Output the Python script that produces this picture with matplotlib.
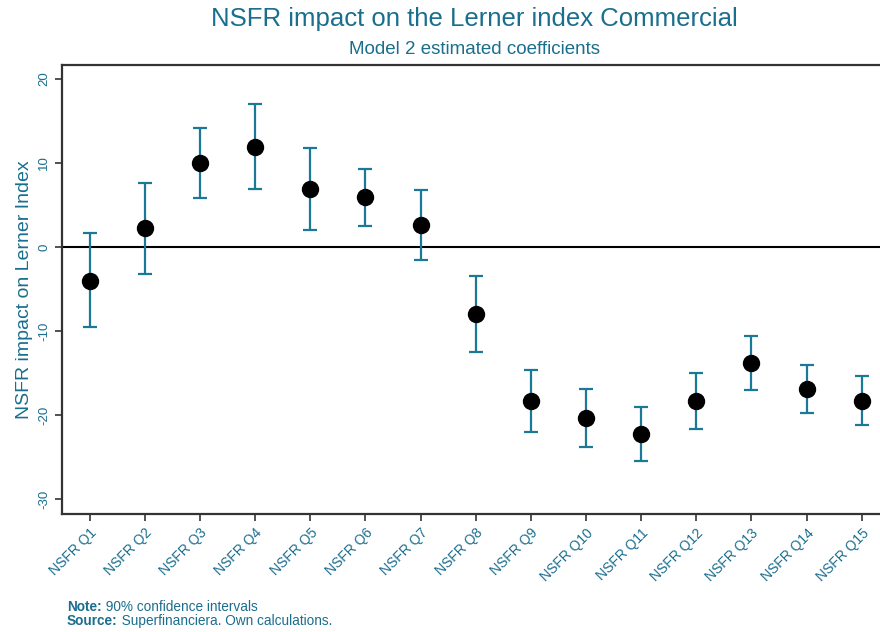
import matplotlib.pyplot as plt

plt.rcParams["font.family"] = ["Liberation Sans", "DejaVu Sans"]

labels = ["NSFR Q%d" % i for i in range(1, 16)]
coef = [-4.05, 2.26, 10.0, 11.9, 6.9, 5.95, 2.6, -8.0, -18.3, -20.4, -22.3, -18.4, -13.8, -16.9, -18.3]
upper = [1.67, 7.6, 14.2, 17.0, 11.8, 9.3, 6.8, -3.45, -14.7, -16.9, -19.1, -15.0, -10.6, -14.0, -15.4]
lower = [-9.5, -3.2, 5.8, 6.9, 2.0, 2.5, -1.5, -12.5, -22.0, -23.8, -25.5, -21.7, -17.0, -19.8, -21.2]
yticks = [20, 10, 0, -10, -20, -30]
notes = [("Note:", " 90% confidence intervals"),
         ("Source:", " Superfinanciera. Own calculations.")]

teal = "#1a6e8e"
bar_col = "#1b7896"
frame = "#333333"

fig = plt.figure(figsize=(8.8, 6.32), dpi=100)
ax = fig.add_axes([62 / 880, 1 - 514 / 632, 1 - 62 / 880, (514 - 65) / 632])

x = list(range(1, 16))
ax.axhline(0, color="black", lw=1.5, zorder=1)
yerr = [[c - l for c, l in zip(coef, lower)], [u - c for c, u in zip(coef, upper)]]
ax.errorbar(x, coef, yerr=yerr, fmt="none", ecolor=bar_col, elinewidth=1.6,
            capsize=5, capthick=1.6, zorder=2)
ax.plot(x, coef, "o", color="black", markersize=11.5, zorder=3)

ax.set_xlim(0.5, 15.33)
ax.set_ylim(-31.8, 21.67)
ax.set_xticks(x)
ax.set_xticklabels(labels, rotation=45, ha="right", rotation_mode="anchor",
                   color=teal, fontsize=10)
ax.set_yticks(yticks)
ax.set_yticklabels([str(v) for v in yticks], rotation=90, va="center",
                   color=teal, fontsize=9.5)
ax.tick_params(axis="both", color=frame, width=1.2, length=5)
ax.set_ylabel("NSFR impact on Lerner Index", color=teal, fontsize=14, labelpad=4)

ax.spines["right"].set_visible(False)
for s in ["left", "bottom", "top"]:
    ax.spines[s].set_color(frame)
    ax.spines[s].set_linewidth(1.6)

fig.text(0.539, 1 - 19 / 632, "NSFR impact on the Lerner index Commercial",
         ha="center", va="center", color=teal, fontsize=18.5)
fig.text(0.539, 1 - 49 / 632, "Model 2 estimated coefficients",
         ha="center", va="center", color=teal, fontsize=13.5)

renderer = fig.canvas.get_renderer()
for i, (head, body) in enumerate(notes):
    yy = 1 - (607 + 14 * i) / 632
    t = fig.text(67 / 880, yy, head, ha="left", va="center", color=teal,
                 fontsize=9.8, fontweight="bold")
    w = t.get_window_extent(renderer).width
    fig.text(67 / 880 + w / 880, yy, body, ha="left", va="center",
             color=teal, fontsize=9.8)

fig.savefig("out.png", dpi=100)
